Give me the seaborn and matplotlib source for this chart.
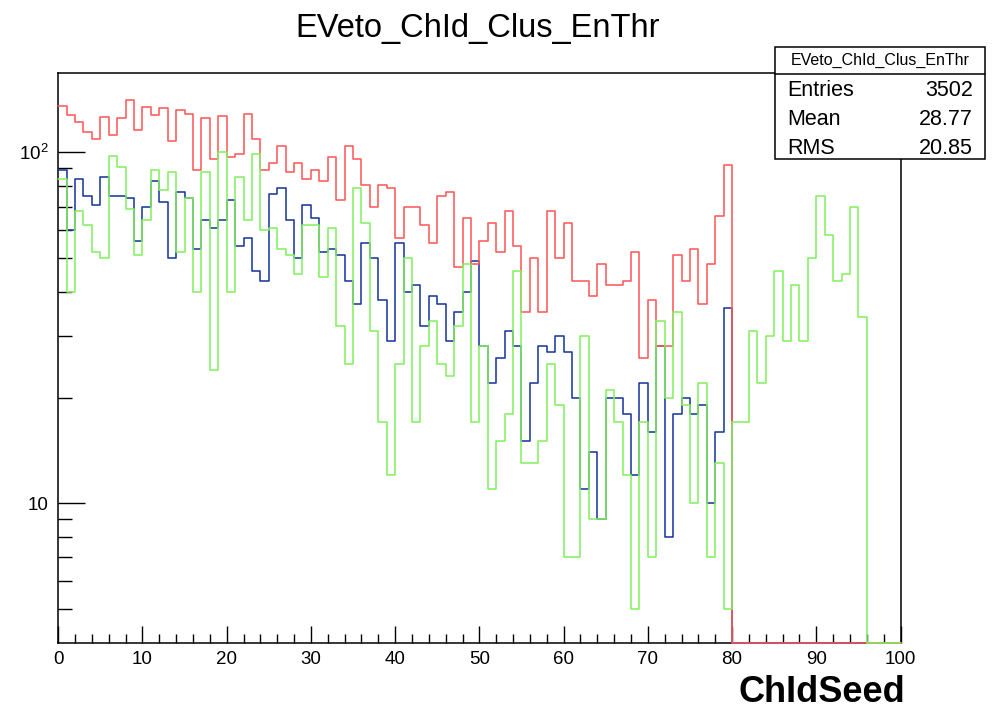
import numpy as np
import pandas as pd
import matplotlib
matplotlib.use("Agg")
import matplotlib.pyplot as plt
import seaborn as sns
from matplotlib.ticker import FixedLocator, FixedFormatter, MultipleLocator, NullFormatter
from matplotlib.patches import Rectangle
from matplotlib.lines import Line2D

# ---------------- data (bin contents, bins 0..99 of width 1) ----------------
red_counts = [136, 128, 122, 114, 109, 126, 112, 125, 141, 116,
              135, 128, 134, 108, 132, 129, 89, 125, 96, 127,
              97, 99, 129, 109, 89, 93, 104, 88, 93, 84,
              89, 83, 97, 73, 104, 96, 81, 70, 81, 79,
              57, 70, 70, 62, 55, 75, 77, 47, 65, 48,
              56, 63, 52, 68, 54, 35, 50, 35, 68, 50,
              63, 43, 43, 39, 48, 42, 42, 43, 52, 26,
              38, 28, 28, 51, 43, 53, 37, 48, 66, 92,
              0, 0, 0, 0, 0, 0, 0, 0, 0, 0,
              0, 0, 0, 0, 0, 0, 0, 0, 0, 0]
blue_counts = [89, 60, 84, 75, 71, 85, 75, 75, 74, 56,
               70, 83, 72, 50, 77, 74, 53, 64, 61, 64,
               73, 54, 57, 46, 43, 76, 79, 64, 50, 71,
               65, 52, 53, 51, 43, 37, 55, 50, 38, 29,
               55, 40, 42, 32, 39, 37, 29, 35, 40, 49,
               28, 22, 26, 31, 28, 15, 22, 28, 27, 30,
               27, 20, 11, 14, 9, 20, 20, 18, 12, 22,
               16, 28, 8, 18, 20, 18, 19, 10, 16, 36,
               0, 0, 0, 0, 0, 0, 0, 0, 0, 0,
               0, 0, 0, 0, 0, 0, 0, 0, 0, 0]
green_counts = [84, 40, 68, 62, 52, 50, 98, 91, 69, 51,
                64, 89, 78, 88, 52, 74, 40, 88, 24, 100,
                40, 85, 64, 99, 60, 61, 53, 51, 45, 62,
                62, 44, 61, 32, 25, 79, 63, 31, 17, 12,
                25, 50, 17, 28, 33, 25, 23, 32, 48, 17,
                28, 11, 15, 18, 46, 13, 13, 15, 25, 19,
                7, 7, 30, 9, 9, 21, 17, 12, 5, 17,
                7, 33, 20, 35, 19, 10, 22, 7, 13, 5,
                17, 17, 31, 22, 30, 46, 29, 42, 29, 50,
                75, 58, 43, 45, 70, 34, 0, 0, 0, 0]

x_range = (0, 100)
n_bins = 100
title_text = "EVeto_ChId_Clus_EnThr"
x_label = "ChIdSeed"
stats_title = "EVeto_ChId_Clus_EnThr"
stats_names = ["Entries", "Mean", "RMS"]
stats_values = ["3502", "28.77", "20.85"]
y_major = [10, 100]
y_major_labels = ["10", r"$\mathregular{10^{2}}$"]
y_minor = [5, 6, 7, 8, 9, 20, 30, 40, 50, 60, 70, 80, 90]

# ---------------- style ----------------
sns.set_theme(style="ticks")
plt.rcParams['font.family'] = ['Liberation Sans', 'DejaVu Sans']
plt.rcParams['mathtext.fontset'] = 'custom'
plt.rcParams['mathtext.rm'] = 'Liberation Sans'

fig = plt.figure(figsize=(9.96, 7.09), dpi=100)
fig.patch.set_facecolor("white")
ax = fig.add_axes([58.2 / 996, 1 - 642.7 / 709, (900.5 - 58.2) / 996, (642.7 - 72.5) / 709])

centers = np.arange(n_bins) + 0.5
df = pd.DataFrame({"center": centers,
                   "red": red_counts, "blue": blue_counts, "green": green_counts})

series = [("blue", "#1a3a9c"), ("red", "#ff5a5a"), ("green", "#84f060")]
for col, colr in series:
    sns.histplot(data=df, x="center", weights=col, bins=n_bins, binrange=x_range,
                 element="step", fill=False, color=colr, linewidth=1.15, ax=ax)

ax.set_yscale("log", nonpositive="clip")
ax.set_xlim(*x_range)
ax.set_ylim(4.0, 169)
ax.set_xlabel("")
ax.set_ylabel("")

# ROOT convention: empty bins are drawn along the lower edge of the frame
ymin = ax.get_ylim()[0]
for ln in ax.lines:
    yd = np.asarray(ln.get_ydata(), dtype=float)
    ln.set_ydata(np.where(yd > 0, yd, ymin))
    ln.set_zorder(3)
    ln.set_clip_on(False)

ax.yaxis.set_major_locator(FixedLocator(y_major))
ax.yaxis.set_major_formatter(FixedFormatter(y_major_labels))
ax.yaxis.set_minor_locator(FixedLocator(y_minor))
ax.yaxis.set_minor_formatter(NullFormatter())
ax.xaxis.set_major_locator(MultipleLocator(10))
ax.xaxis.set_minor_locator(MultipleLocator(2))

for s in ax.spines.values():
    s.set_visible(True)
    s.set_color("black")
    s.set_linewidth(1.1)

ax.tick_params(axis="both", which="both", direction="in", color="black",
               width=1.0, top=False, right=False, left=True, bottom=True,
               labelcolor="black")
ax.tick_params(axis="y", which="major", length=19.5, pad=7, labelsize=13.5)
ax.tick_params(axis="y", which="minor", length=10)
ax.tick_params(axis="x", which="major", length=12, pad=6, labelsize=13.5)
ax.tick_params(axis="x", which="minor", length=6.5)

# title
fig.text(477.5 / 996, 1 - 29 / 709, title_text, ha="center", va="center",
         fontsize=23.5, color="black")

# x label (ROOT style, bold, right side)
fig.text(822 / 996, 1 - 692 / 709, x_label, ha="center", va="center",
         fontsize=26, fontweight="bold", color="black")

# stats box
bx0, bx1, by0, by1 = 775, 985, 47, 159
box = Rectangle((bx0 / 996, 1 - by1 / 709), (bx1 - bx0) / 996, (by1 - by0) / 709,
                transform=fig.transFigure, facecolor="white", edgecolor="black",
                linewidth=1.1, zorder=5)
fig.patches.append(box)
fig.add_artist(Line2D([bx0 / 996, bx1 / 996], [1 - 74.3 / 709, 1 - 74.3 / 709],
                      transform=fig.transFigure, color="black", linewidth=1.1, zorder=6))
fig.text((bx0 + bx1) / 2 / 996, 1 - 60.5 / 709, stats_title, ha="center", va="center",
         fontsize=11.5, color="black", zorder=7)
row_y = [90, 119.5, 148]
for name, val, yy in zip(stats_names, stats_values, row_y):
    fig.text(787 / 996, 1 - yy / 709, name, ha="left", va="center",
             fontsize=15.5, color="black", zorder=7)
    fig.text(973 / 996, 1 - yy / 709, val, ha="right", va="center",
             fontsize=15.5, color="black", zorder=7)

fig.savefig("out.png", dpi=100, facecolor="white")
